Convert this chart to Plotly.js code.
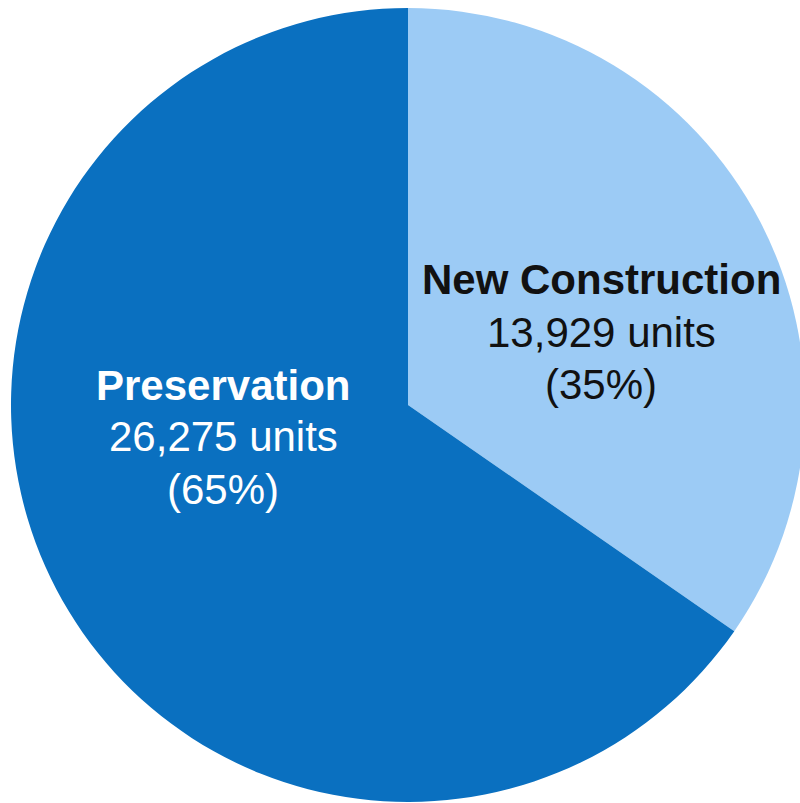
<!DOCTYPE html>
<html>
<head>
<meta charset="utf-8">
<script src="https://cdn.plot.ly/plotly-3.0.1.min.js"></script>
<style>
html,body{margin:0;padding:0;background:#fff;overflow:hidden;}
#chart{width:810px;height:803px;}
</style>
</head>
<body>
<div id="chart"></div>
<script>
const categories = ["New Construction", "Preservation"];
const units = [13929, 26275];
const percents = [35, 65];
const sliceColors = ["#9ccbf5", "#0a70c0"];
const labelColors = ["#111111", "#ffffff"];
const labelX = [601, 223];          // label block centre, px from left
const labelTopLine = [280, 385];    // first line centre, px from top
const lineStep = 52;

const W = 810, H = 803;
const annotations = [];
categories.forEach((c, i) => {
  const lines = [
    "<b>" + c + "</b>",
    units[i].toLocaleString("en-US") + " units",
    "(" + percents[i] + "%)"
  ];
  lines.forEach((t, k) => {
    annotations.push({
      text: t,
      x: labelX[i] / W, y: (H - (labelTopLine[i] + k * lineStep)) / H,
      xref: "paper", yref: "paper",
      xanchor: "center", yanchor: "middle", showarrow: false,
      font: {family: "Liberation Sans, Arial, sans-serif", size: 42, color: labelColors[i]}
    });
  });
});

const data = [{
  type: "pie",
  labels: categories,
  values: units,
  sort: false,
  direction: "clockwise",
  rotation: 0,
  textinfo: "none",
  hoverinfo: "none",
  marker: {colors: sliceColors, line: {width: 0}},
  domain: {x: [11/W, 805/W], y: [1/H, 795/H]}
}];

const layout = {
  width: W, height: H,
  margin: {l: 0, r: 0, t: 0, b: 0},
  showlegend: false,
  paper_bgcolor: "#ffffff",
  annotations: annotations
};

Plotly.newPlot("chart", data, layout, {displayModeBar: false, staticPlot: true});
</script>
</body>
</html>
